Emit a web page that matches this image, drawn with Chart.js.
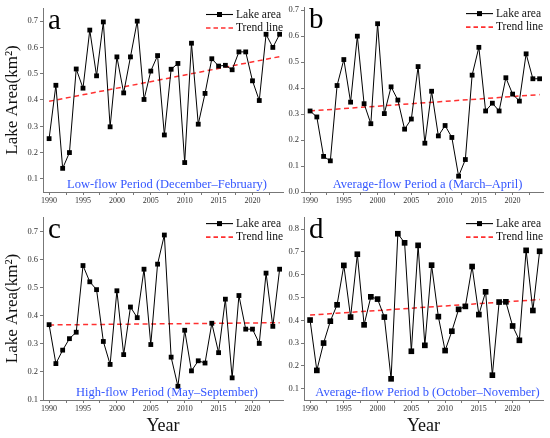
<!DOCTYPE html>
<html><head><meta charset="utf-8">
<script src="https://cdn.jsdelivr.net/npm/chart.js@4.4.1/dist/chart.umd.min.js"></script>
<style>
html,body{margin:0;padding:0;background:#fff;}
body{width:550px;height:438px;position:relative;overflow:hidden;}
canvas{position:absolute;}
</style></head><body>
<canvas id="pa" width="285" height="212" style="left:0px;top:0px;width:285px;height:212px"></canvas>
<canvas id="pb" width="280" height="212" style="left:270px;top:0px;width:280px;height:212px"></canvas>
<canvas id="pc" width="285" height="228" style="left:0px;top:210px;width:285px;height:228px"></canvas>
<canvas id="pd" width="280" height="228" style="left:270px;top:210px;width:280px;height:228px"></canvas>
<script>
// ---------------- data ----------------
const years = [1990,1991,1992,1993,1994,1995,1996,1997,1998,1999,
               2000,2001,2002,2003,2004,2005,2006,2007,2008,2009,
               2010,2011,2012,2013,2014,2015,2016,2017,2018,2019,
               2020,2021,2022,2023,2024];

const areaA = [0.253,0.456,0.140,0.200,0.518,0.445,0.666,0.492,0.697,0.298,
               0.564,0.427,0.564,0.700,0.402,0.510,0.569,0.267,0.517,0.539,
               0.162,0.616,0.308,0.425,0.557,0.529,0.532,0.515,0.583,0.583,
               0.473,0.398,0.650,0.600,0.650];
const areaB = [0.312,0.289,0.137,0.120,0.410,0.510,0.346,0.600,0.340,0.263,
               0.648,0.302,0.405,0.354,0.242,0.281,0.483,0.188,0.388,0.216,
               0.256,0.210,0.061,0.125,0.450,0.557,0.312,0.342,0.312,0.440,
               0.377,0.350,0.532,0.436,0.436];
const areaC = [0.369,0.230,0.278,0.319,0.342,0.580,0.522,0.494,0.309,0.227,
               0.490,0.262,0.432,0.394,0.567,0.298,0.585,0.689,0.253,0.149,
               0.349,0.204,0.240,0.232,0.374,0.269,0.460,0.179,0.473,0.353,
               0.353,0.302,0.553,0.363,0.567];
const areaD = [0.401,0.180,0.300,0.396,0.468,0.641,0.414,0.690,0.380,0.503,
               0.493,0.414,0.143,0.780,0.740,0.264,0.729,0.290,0.642,0.416,
               0.267,0.352,0.448,0.461,0.636,0.425,0.525,0.159,0.480,0.481,
               0.375,0.312,0.707,0.443,0.703];

const trendYears = [1990, 2024];
const trendA = [0.395, 0.565];
const trendB = [0.312, 0.375];
const trendC = [0.368, 0.376];
const trendD = [0.423, 0.491];

const yTicksA = [0.1,0.2,0.3,0.4,0.5,0.6,0.7];
const yTicksB = [0.0,0.1,0.2,0.3,0.4,0.5,0.6,0.7];
const yTicksC = [0.1,0.2,0.3,0.4,0.5,0.6,0.7];
const yTicksD = [0.1,0.2,0.3,0.4,0.5,0.6,0.7,0.8];
const xTickLabels = [1990,1995,2000,2005,2010,2015,2020];
const xMinorTicks = [1992.5,1997.5,2002.5,2007.5,2012.5,2017.5,2022.5];

const seriesNames = ['Lake area', 'Trend line'];
const panelLetters = ['a','b','c','d'];
const periodLabels = ['Low-flow Period (December\u2013February)',
                      'Average-flow Period a (March\u2013April)',
                      'High-flow Period (May\u2013September)',
                      'Average-flow Period b (October\u2013November)'];
const yTitle = 'Lake Area(km\u00B2)';
const xTitle = 'Year';

// ---------------- drawing ----------------
const SERIF = "'Liberation Serif','Times New Roman',serif";
const RED = '#ff3030';
const BLUE = '#3456ff';
Chart.defaults.font.family = SERIF;

const decor = {
  id: 'decor',
  afterDraw(chart, args, o) {
    const {ctx, chartArea: ca} = chart;
    ctx.save();
    // panel letter
    ctx.fillStyle = '#000';
    ctx.textAlign = 'left';
    ctx.textBaseline = 'alphabetic';
    ctx.font = '29px ' + SERIF;
    ctx.fillText(o.letter, ca.left + 5, ca.top + 21);
    // legend
    const lx = ca.right - 77, lw = 27, tx = ca.right - 47;
    const r1 = ca.top + 6.5, r2 = ca.top + 20;
    const ds = chart.data.datasets;
    ctx.strokeStyle = '#000'; ctx.lineWidth = 1.1;
    ctx.beginPath(); ctx.moveTo(lx, r1); ctx.lineTo(lx + lw, r1); ctx.stroke();
    ctx.fillRect(lx + lw / 2 - 2.5, r1 - 2.5, 5, 5);
    ctx.strokeStyle = RED; ctx.lineWidth = 1.6; ctx.setLineDash([4.5, 3]);
    ctx.beginPath(); ctx.moveTo(lx, r2); ctx.lineTo(lx + lw, r2); ctx.stroke();
    ctx.setLineDash([]);
    ctx.font = '11.5px ' + SERIF;
    ctx.textBaseline = 'middle';
    ctx.fillStyle = '#111';
    ctx.fillText(ds[0].label, tx, r1);
    ctx.fillText(ds[1].label, tx, r2);
    // period text
    ctx.fillStyle = BLUE;
    ctx.textAlign = 'center';
    ctx.font = '12.5px ' + SERIF;
    ctx.fillText(o.period, (ca.left + ca.right) / 2 + 4, ca.bottom - 7.5);
    ctx.restore();
  }
};

function makePanel(id, idx, area, trend, yTicks, ymin, ymax, opts) {
  const ctx = document.getElementById(id);
  return new Chart(ctx, {
    type: 'line',
    data: {
      datasets: [
        {
          label: seriesNames[0],
          data: years.map((x, i) => ({x: x, y: area[i]})),
          borderColor: '#000', backgroundColor: '#000',
          borderWidth: 1, pointStyle: 'rect', pointRadius: opts.pr,
          pointBorderWidth: 0, tension: 0, clip: false, order: 1
        },
        {
          label: seriesNames[1],
          data: trendYears.map((x, i) => ({x: x, y: trend[i]})),
          borderColor: RED, borderWidth: 1.5, borderDash: [5, 3.5],
          pointRadius: 0, tension: 0, clip: false, order: 2
        }
      ]
    },
    options: {
      responsive: false, animation: false,
      layout: { autoPadding: false, padding: {left: 0, top: opts.top, right: opts.right, bottom: 0} },
      plugins: {
        legend: {display: false}, tooltip: {enabled: false},
        decor: {letter: panelLetters[idx], period: periodLabels[idx]}
      },
      scales: {
        x: {
          type: 'linear', min: 1989.1, max: 2024.5,
          afterBuildTicks: s => { s.ticks = xTickLabels.concat(xMinorTicks).sort((a, b) => a - b).map(v => ({value: v})); },
          afterFit: s => { s.height = opts.xh; },
          ticks: {
            callback: v => xTickLabels.includes(v) ? String(v) : '',
            font: {size: 8}, color: '#333', padding: 1, maxRotation: 0, autoSkip: false
          },
          grid: {display: true, drawOnChartArea: false, drawTicks: true, tickLength: 3, color: '#777'},
          border: {display: true, color: '#777', width: 1},
          title: {display: opts.showX, text: xTitle, color: '#111', font: {size: 18}, padding: {top: 0, bottom: 1}}
        },
        y: {
          type: 'linear', min: ymin, max: ymax,
          afterBuildTicks: s => { s.ticks = yTicks.map(v => ({value: v})); },
          afterFit: s => { s.width = opts.yw; },
          ticks: {
            callback: v => Number(v).toFixed(1),
            font: {size: 8.5}, color: '#333', padding: 2, autoSkip: false
          },
          grid: {display: true, drawOnChartArea: false, drawTicks: true, tickLength: 3, color: '#777'},
          border: {display: true, color: '#777', width: 1},
          title: {display: opts.showY, text: yTitle, color: '#111', font: {size: 17}, padding: {top: 2, bottom: 0}}
        }
      }
    },
    plugins: [decor]
  });
}

makePanel('pa', 0, areaA, trendA, yTicksA, 0.05, 0.75, {top: 8, right: 2, xh: 20, yw: 43, showX: false, showY: true, pr: 3.4});
makePanel('pb', 1, areaB, trendB, yTicksB, 0.0, 0.712, {top: 6, right: 7, xh: 20, yw: 34, showX: false, showY: false, pr: 3.4});
makePanel('pc', 2, areaC, trendC, yTicksC, 0.1, 0.753, {top: 5, right: 2, xh: 38, yw: 43, showX: true, showY: true, pr: 3.4});
makePanel('pd', 3, areaD, trendD, yTicksD, 0.05, 0.853, {top: 5, right: 7, xh: 38, yw: 34, showX: true, showY: false, pr: 4.0});
</script>
</body></html>
